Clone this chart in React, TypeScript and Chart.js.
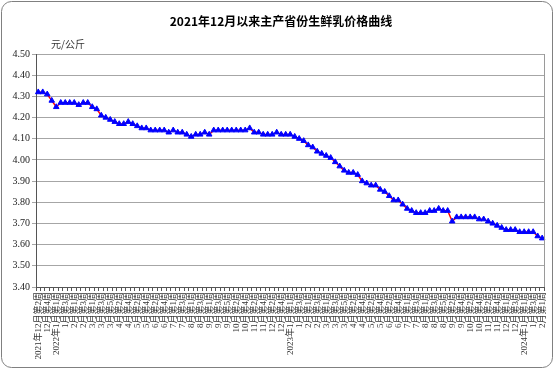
import React, { useEffect, useRef } from "react";
import { Chart, registerables } from "chart.js";

Chart.register(...registerables);

const TITLE = "2021年12月以来主产省份生鲜乳价格曲线";
const UNIT = "元/公斤";

const weekLabels: string[] = [
  "2021年12月第2周", "12月第3周", "12月第4周", "12月第5周",
  "2022年1月第1周", "1月第2周", "1月第3周", "1月第4周",
  "2月第1周", "2月第2周", "2月第3周", "2月第4周",
  "3月第1周", "3月第2周", "3月第3周", "3月第4周", "3月第5周",
  "4月第1周", "4月第2周", "4月第3周", "4月第4周",
  "5月第1周", "5月第2周", "5月第3周", "5月第4周",
  "6月第1周", "6月第2周", "6月第3周", "6月第4周", "6月第5周",
  "7月第1周", "7月第2周", "7月第3周", "7月第4周",
  "8月第1周", "8月第2周", "8月第3周", "8月第4周",
  "9月第1周", "9月第2周", "9月第3周", "9月第4周", "9月第5周",
  "10月第1周", "10月第2周", "10月第3周", "10月第4周",
  "11月第1周", "11月第2周", "11月第3周", "11月第4周",
  "12月第1周", "12月第2周", "12月第3周", "12月第4周", "12月第5周",
  "2023年1月第1周", "1月第2周", "1月第3周", "1月第4周",
  "2月第1周", "2月第2周", "2月第3周", "2月第4周",
  "3月第1周", "3月第2周", "3月第3周", "3月第4周", "3月第5周",
  "4月第1周", "4月第2周", "4月第3周", "4月第4周",
  "5月第1周", "5月第2周", "5月第3周", "5月第4周",
  "6月第1周", "6月第2周", "6月第3周", "6月第4周", "6月第5周",
  "7月第1周", "7月第2周", "7月第3周", "7月第4周",
  "8月第1周", "8月第2周", "8月第3周", "8月第4周", "8月第5周",
  "9月第1周", "9月第2周", "9月第3周", "9月第4周",
  "10月第1周", "10月第2周", "10月第3周", "10月第4周",
  "11月第1周", "11月第2周", "11月第3周", "11月第4周", "11月第5周",
  "12月第1周", "12月第2周", "12月第3周", "12月第4周",
  "2024年1月第1周", "1月第2周", "1月第3周", "1月第4周",
  "2月第1周",
];

const prices2021: number[] = [4.32, 4.32, 4.31, 4.28];
const prices2022: number[] = [
  4.25, 4.27, 4.27, 4.27,
  4.27, 4.26, 4.27, 4.27,
  4.25, 4.24, 4.21, 4.20, 4.19,
  4.18, 4.17, 4.17, 4.18,
  4.17, 4.16, 4.15, 4.15,
  4.14, 4.14, 4.14, 4.14, 4.13,
  4.14, 4.13, 4.13, 4.12,
  4.11, 4.12, 4.12, 4.13,
  4.12, 4.14, 4.14, 4.14, 4.14,
  4.14, 4.14, 4.14, 4.14,
  4.15, 4.13, 4.13, 4.12,
  4.12, 4.12, 4.13, 4.12, 4.12,
];
const prices2023: number[] = [
  4.12, 4.11, 4.10, 4.09,
  4.07, 4.06, 4.04, 4.03,
  4.02, 4.01, 3.99, 3.97, 3.95,
  3.94, 3.94, 3.93, 3.90,
  3.89, 3.88, 3.88, 3.86,
  3.85, 3.83, 3.81, 3.81, 3.79,
  3.77, 3.76, 3.75, 3.75,
  3.75, 3.76, 3.76, 3.77, 3.76,
  3.76, 3.71, 3.73, 3.73,
  3.73, 3.73, 3.73, 3.72,
  3.72, 3.71, 3.70, 3.69, 3.68,
  3.67, 3.67, 3.67, 3.66,
];
const prices2024: number[] = [3.66, 3.66, 3.66, 3.64, 3.63];

const priceValues: number[] = [...prices2021, ...prices2022, ...prices2023, ...prices2024];

const yMin = 3.4;
const yMax = 4.5;
const yStep = 0.05;

const labelFont = '"Liberation Serif", "Noto Sans CJK SC", serif';

const framePlugin = {
  id: "frame",
  afterDraw(chart: any) {
    const { ctx, chartArea } = chart;
    ctx.save();
    // right border of plot area
    ctx.strokeStyle = "#9a9a9a";
    ctx.lineWidth = 1;
    ctx.beginPath();
    ctx.moveTo(Math.round(chartArea.right) + 0.5, chartArea.top);
    ctx.lineTo(Math.round(chartArea.right) + 0.5, chartArea.bottom);
    ctx.stroke();
    // title
    ctx.fillStyle = "#000";
    ctx.font = 'bold 12px "Noto Sans CJK SC", sans-serif';
    ctx.textBaseline = "middle";
    ctx.textAlign = "center";
    ctx.fillText(TITLE, 281, 21);
    // unit text
    ctx.fillStyle = "#333";
    ctx.font = '10px "Noto Sans CJK SC", sans-serif';
    ctx.textAlign = "left";
    ctx.fillText(UNIT, chartArea.left + 15, chartArea.top - 10);
    // outer rounded border
    ctx.strokeStyle = "#808080";
    ctx.beginPath();
    if (ctx.roundRect) {
      ctx.roundRect(1.5, 1.5, chart.width - 3, chart.height - 3, 10);
    } else {
      ctx.rect(1.5, 1.5, chart.width - 3, chart.height - 3);
    }
    ctx.stroke();
    ctx.restore();
  },
};

export default function App() {
  const canvasRef = useRef<HTMLCanvasElement | null>(null);

  useEffect(() => {
    document.body.style.margin = "0";
    const canvas = canvasRef.current;
    if (!canvas) return;
    const chart = new Chart(canvas, {
      type: "line",
      data: {
        labels: weekLabels,
        datasets: [
          {
            data: priceValues,
            borderColor: "#FF0000",
            borderWidth: 1.5,
            pointStyle: "triangle",
            pointRadius: 3.2,
            pointBorderWidth: 1,
            pointBackgroundColor: "#0000FF",
            pointBorderColor: "#0000FF",
            tension: 0,
          },
        ],
      },
      options: {
        responsive: false,
        animation: false,
        devicePixelRatio: 1,
        layout: { padding: { left: 4, right: 8, top: 54, bottom: 8 } },
        plugins: {
          legend: { display: false },
          tooltip: { enabled: false },
          title: { display: false },
        },
        scales: {
          x: {
            type: "category",
            offset: true,
            grid: {
              display: true,
              drawOnChartArea: false,
              drawTicks: true,
              tickLength: 4,
              color: "#555",
              offset: true,
            },
            border: { display: true, color: "#555" },
            ticks: {
              autoSkip: false,
              maxRotation: 90,
              minRotation: 90,
              padding: 1,
              color: "#333",
              font: { size: 9, family: labelFont },
              callback: (_v: any, i: number) => (i % 2 === 0 ? weekLabels[i] : ""),
            },
            afterFit: (s: any) => {
              s.height = 74;
            },
          },
          y: {
            min: yMin,
            max: yMax,
            ticks: {
              stepSize: yStep,
              padding: 2,
              color: "#222",
              font: { size: 10, family: '"Liberation Serif", serif' },
              callback: (v: any) => Number(v).toFixed(2),
            },
            grid: { color: "#A6A6A6", tickLength: 4, drawTicks: true },
            border: { display: true, color: "#555" },
            afterFit: (s: any) => {
              s.width = 32;
            },
          },
        },
      },
      plugins: [framePlugin],
    } as any);
    return () => chart.destroy();
  }, []);

  return (
    <div style={{ width: 554, height: 369 }}>
      <canvas ref={canvasRef} width={554} height={369} />
    </div>
  );
}
